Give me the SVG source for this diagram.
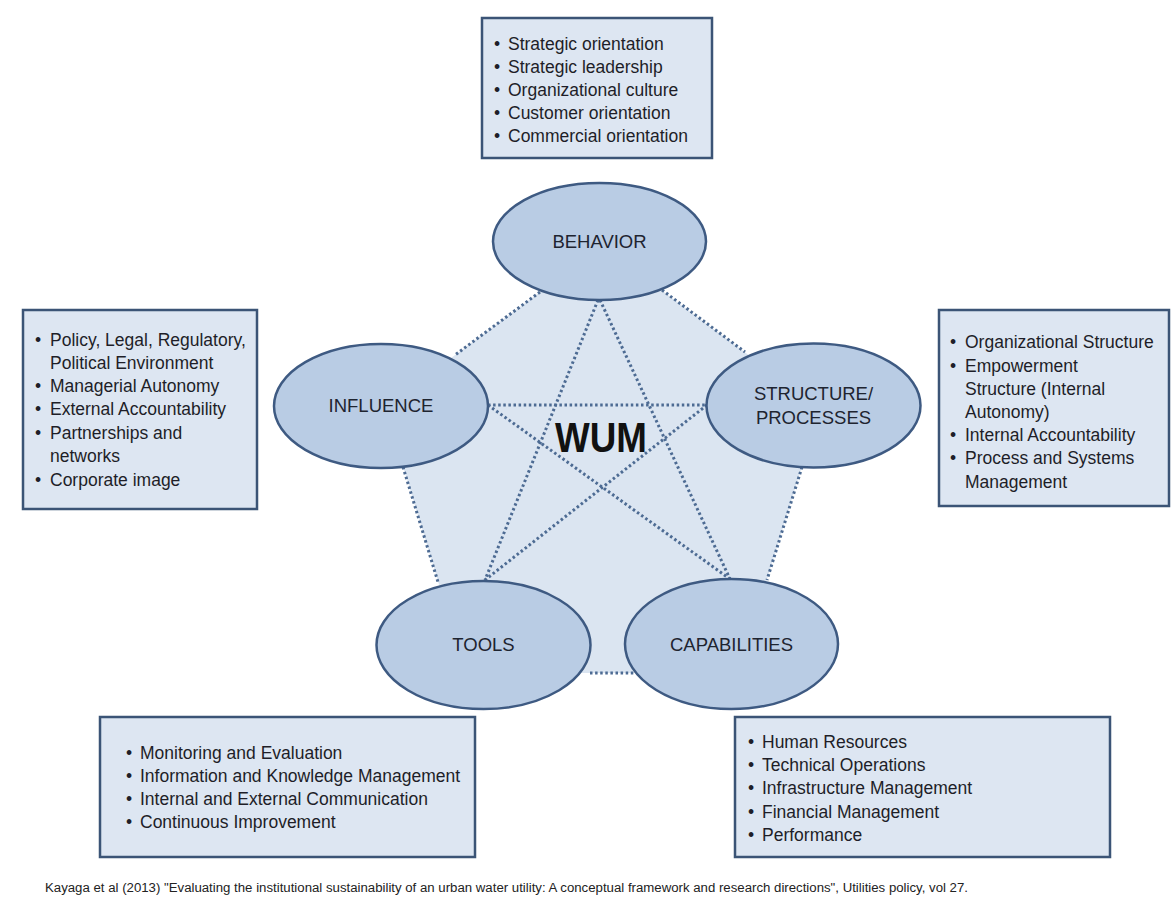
<svg xmlns="http://www.w3.org/2000/svg" width="1173" height="902" viewBox="0 0 1173 902">
<style>
.box{fill:#dde6f2;stroke:#3b5476;stroke-width:2.5}
.ell{fill:#b9cce4;stroke:#3e5a82;stroke-width:2.5}
.t{font-family:"Liberation Sans",Arial,sans-serif;font-size:17.5px;fill:#1e1e28}
.lbl{font-family:"Liberation Sans",Arial,sans-serif;font-size:18.5px;fill:#1e2430;text-anchor:middle}
.dot{stroke:#4d6b93;stroke-width:3;stroke-dasharray:2.5 2.6;fill:none}
</style>
<rect width="1173" height="902" fill="#ffffff"/>
<polygon points="602,246 820,408 738,673 466,673 385,407" fill="#dbe5f1"/>
<g id="connectors">
<line class="dot" x1="540" y1="292" x2="455" y2="355"/>
<line class="dot" x1="662" y1="290" x2="745" y2="352"/>
<line class="dot" x1="403" y1="467" x2="438" y2="582"/>
<line class="dot" x1="802" y1="467" x2="767" y2="580"/>
<line class="dot" x1="590" y1="673" x2="634" y2="673"/>
<line class="dot" x1="598" y1="300" x2="485" y2="580"/>
<line class="dot" x1="600" y1="300" x2="730" y2="579"/>
<line class="dot" x1="488" y1="405" x2="707" y2="405"/>
<line class="dot" x1="488" y1="405" x2="730" y2="579"/>
<line class="dot" x1="707" y1="405" x2="485" y2="580"/>
</g>
<g id="wum"><text x="601" y="452" font-family="Liberation Sans,Arial,sans-serif" font-size="42" font-weight="bold" fill="#111" text-anchor="middle" textLength="92" lengthAdjust="spacingAndGlyphs">WUM</text></g>
<g id="behavior"><ellipse class="ell" cx="599.5" cy="241.5" rx="106.5" ry="58.5"/><text class="lbl" x="599.5" y="248">BEHAVIOR</text></g>
<g id="influence"><ellipse class="ell" cx="381" cy="406" rx="107" ry="62"/><text class="lbl" x="381" y="412">INFLUENCE</text></g>
<g id="structure"><ellipse class="ell" cx="813.5" cy="405.5" rx="107" ry="62"/><text class="lbl" x="813.5" y="400">STRUCTURE/</text><text class="lbl" x="813.5" y="424">PROCESSES</text></g>
<g id="tools"><ellipse class="ell" cx="483.5" cy="645" rx="107" ry="64"/><text class="lbl" x="483.5" y="651">TOOLS</text></g>
<g id="capabilities"><ellipse class="ell" cx="731.5" cy="644" rx="106.5" ry="65"/><text class="lbl" x="731.5" y="651">CAPABILITIES</text></g>
<g id="box-behavior"><rect class="box" x="482" y="18" width="230" height="140"/>
<text class="t"><tspan x="494" y="50">•</tspan><tspan x="508" y="50">Strategic orientation</tspan><tspan x="494" y="73">•</tspan><tspan x="508" y="73">Strategic leadership</tspan><tspan x="494" y="96">•</tspan><tspan x="508" y="96">Organizational culture</tspan><tspan x="494" y="119">•</tspan><tspan x="508" y="119">Customer orientation</tspan><tspan x="494" y="142">•</tspan><tspan x="508" y="142">Commercial orientation</tspan></text></g>
<g id="box-influence"><rect class="box" x="23" y="310" width="234" height="199"/>
<text class="t"><tspan x="35" y="346">•</tspan><tspan x="50" y="346">Policy, Legal, Regulatory,</tspan><tspan x="50" y="369">Political Environment</tspan><tspan x="35" y="392">•</tspan><tspan x="50" y="392">Managerial Autonomy</tspan><tspan x="35" y="415">•</tspan><tspan x="50" y="415">External Accountability</tspan><tspan x="35" y="439">•</tspan><tspan x="50" y="439">Partnerships and</tspan><tspan x="50" y="462">networks</tspan><tspan x="35" y="486">•</tspan><tspan x="50" y="486">Corporate image</tspan></text></g>
<g id="box-structure"><rect class="box" x="939" y="310" width="230" height="196"/>
<text class="t"><tspan x="950" y="348">•</tspan><tspan x="965" y="348">Organizational Structure</tspan><tspan x="950" y="372">•</tspan><tspan x="965" y="372">Empowerment</tspan><tspan x="965" y="395">Structure (Internal</tspan><tspan x="965" y="418">Autonomy)</tspan><tspan x="950" y="441">•</tspan><tspan x="965" y="441">Internal Accountability</tspan><tspan x="950" y="464">•</tspan><tspan x="965" y="464">Process and Systems</tspan><tspan x="965" y="488">Management</tspan></text></g>
<g id="box-tools"><rect class="box" x="100" y="717" width="375" height="140"/>
<text class="t"><tspan x="126" y="759">•</tspan><tspan x="140" y="759">Monitoring and Evaluation</tspan><tspan x="126" y="782">•</tspan><tspan x="140" y="782">Information and Knowledge Management</tspan><tspan x="126" y="805">•</tspan><tspan x="140" y="805">Internal and External Communication</tspan><tspan x="126" y="828">•</tspan><tspan x="140" y="828">Continuous Improvement</tspan></text></g>
<g id="box-capabilities"><rect class="box" x="735" y="717" width="375" height="140"/>
<text class="t"><tspan x="748" y="748">•</tspan><tspan x="762" y="748">Human Resources</tspan><tspan x="748" y="771">•</tspan><tspan x="762" y="771">Technical Operations</tspan><tspan x="748" y="794">•</tspan><tspan x="762" y="794">Infrastructure Management</tspan><tspan x="748" y="818">•</tspan><tspan x="762" y="818">Financial Management</tspan><tspan x="748" y="841">•</tspan><tspan x="762" y="841">Performance</tspan></text></g>
<g id="caption"><text x="45" y="892" font-family="Liberation Sans,Arial,sans-serif" font-size="12" fill="#222" textLength="923" lengthAdjust="spacingAndGlyphs">Kayaga et al (2013) "Evaluating the institutional sustainability of an urban water utility: A conceptual framework and research directions", Utilities policy, vol 27.</text></g>
</svg>
